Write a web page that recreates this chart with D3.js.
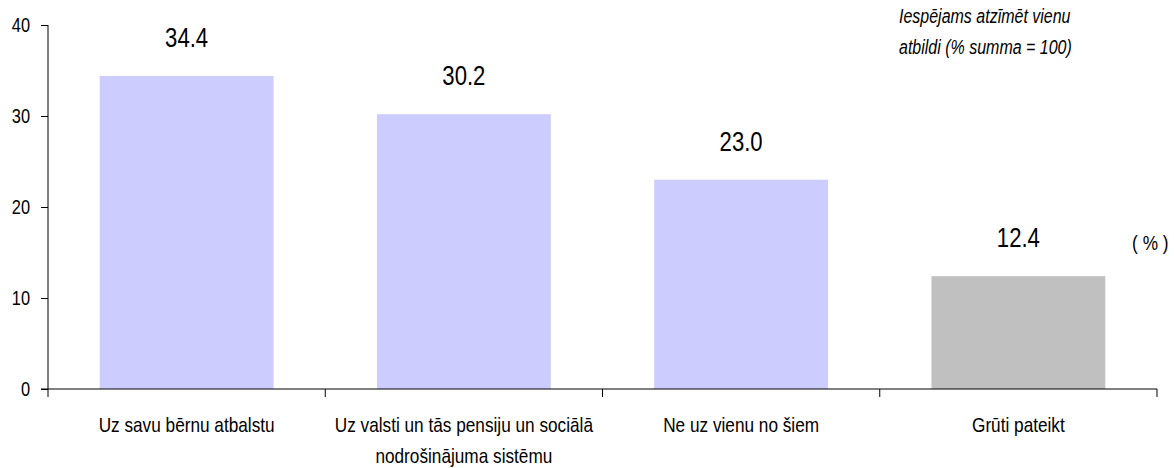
<!DOCTYPE html>
<html>
<head>
<meta charset="utf-8">
<script src="https://cdn.jsdelivr.net/npm/d3@7"></script>
<style>
  body { margin: 0; background: #fff; }
  text { font-family: "Liberation Sans", Arial, sans-serif; fill: #000; }
</style>
</head>
<body>
<div class="container"></div>
<script>
'use strict';

// Chart data.
var categories = [
	['Uz savu bērnu atbalstu'],
	['Uz valsti un tās pensiju un sociālā', 'nodrošinājuma sistēmu'],
	['Ne uz vienu no šiem'],
	['Grūti pateikt']
];
var values = [34.4, 30.2, 23.0, 12.4];
var barColors = ['#ccccff', '#ccccff', '#ccccff', '#c0c0c0'];
var yTicks = [0, 10, 20, 30, 40];
var noteLines = ['Iespējams atzīmēt vienu', 'atbildi (% summa = 100)'];

var width = 1174, height = 468;
var plotLeft = 48, plotRight = 1157, plotTop = 25, plotBottom = 389;
var squeeze = 0.82; // no narrow font installed, so squash text horizontally

var svg = d3.select('.container').append('svg')
	.attr('width', width)
	.attr('height', height);

var x = d3.scaleBand()
	.domain(d3.range(values.length))
	.range([plotLeft, plotRight])
	.paddingInner(0.373)
	.paddingOuter(0.1865);

var y = d3.scaleLinear()
	.domain([0, 40])
	.range([plotBottom, plotTop]);

function place(px, py) {
	return 'translate(' + px + ',' + py + ') scale(' + squeeze + ',1)';
}

//Bars.
svg.selectAll('rect.bar')
	.data(values)
	.enter().append('rect')
	.attr('class', 'bar')
	.attr('x', function(d, i) { return x(i); })
	.attr('y', function(d) { return y(d); })
	.attr('width', x.bandwidth())
	.attr('height', function(d) { return y(0) - y(d); })
	.attr('fill', function(d, i) { return barColors[i]; });

//Value labels.
svg.selectAll('text.val')
	.data(values)
	.enter().append('text')
	.attr('class', 'val')
	.attr('transform', function(d, i) { return place(x(i) + x.bandwidth() / 2, y(d) - 29); })
	.attr('text-anchor', 'middle')
	.style('font-size', '27px')
	.text(function(d) { return d.toFixed(1); });

//Y axis.
var yAxis = svg.append('g')
	.attr('transform', 'translate(' + plotLeft + ',0)')
	.call(d3.axisLeft(y).tickValues(yTicks).tickSize(7).tickFormat(d3.format('d')));
yAxis.select('.domain').attr('d', 'M0,' + plotTop + 'V' + plotBottom);
yAxis.selectAll('.tick text')
	.attr('x', -18 / squeeze)
	.attr('transform', 'scale(' + squeeze + ',1)')
	.style('font-size', '20px')
	.style('font-family', null);
yAxis.selectAll('line').attr('stroke', '#000');

//X axis line and ticks between categories.
var step = x.step();
var tickXs = d3.range(values.length + 1).map(function(i) { return x(0) - x.paddingOuter() * step + i * step; });
svg.append('line')
	.attr('x1', plotLeft - 7).attr('x2', plotRight)
	.attr('y1', plotBottom).attr('y2', plotBottom)
	.attr('stroke', '#000');
svg.selectAll('line.xtick')
	.data(tickXs)
	.enter().append('line')
	.attr('class', 'xtick')
	.attr('x1', function(d) { return d; }).attr('x2', function(d) { return d; })
	.attr('y1', plotBottom).attr('y2', plotBottom + 8)
	.attr('stroke', '#000');

//Category labels.
var cat = svg.selectAll('text.cat')
	.data(categories)
	.enter().append('text')
	.attr('class', 'cat')
	.attr('transform', function(d, i) { return place(x(i) + x.bandwidth() / 2, 432); })
	.attr('text-anchor', 'middle')
	.style('font-size', '21px');
cat.selectAll('tspan')
	.data(function(d) { return d; })
	.enter().append('tspan')
	.attr('x', 0)
	.attr('y', function(d, j) { return j * 31; })
	.text(function(d) { return d; });

//Note in corner.
svg.selectAll('text.note')
	.data(noteLines)
	.enter().append('text')
	.attr('class', 'note')
	.attr('transform', function(d, i) { return place(899, 23 + i * 31); })
	.style('font-size', '19.5px')
	.style('font-style', 'italic')
	.text(function(d) { return d; });

svg.append('text')
	.attr('transform', place(1132, 250))
	.style('font-size', '21px')
	.style('letter-spacing', '6px')
	.text('(%)');
</script>
</body>
</html>
